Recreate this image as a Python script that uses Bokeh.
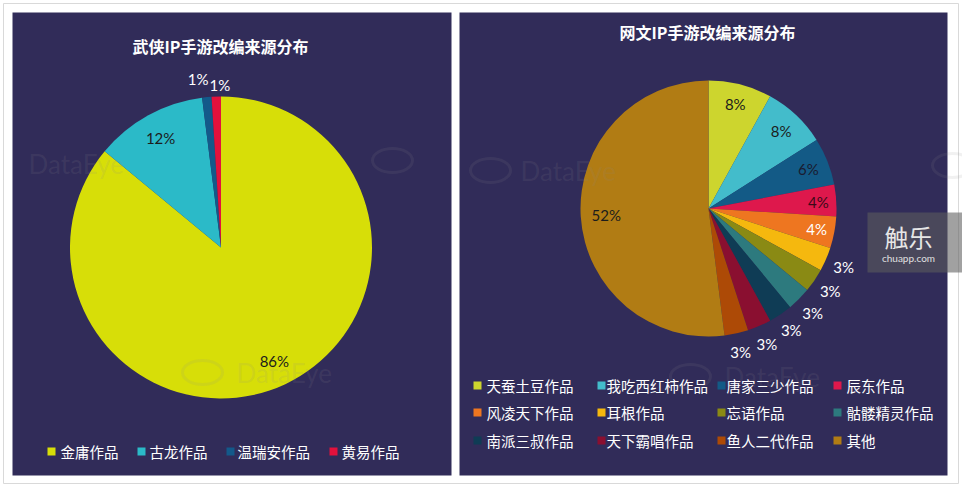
import numpy as np
from bokeh.plotting import figure
from bokeh.models import Range1d
from bokeh.core.properties import value
from bokeh.embed import file_html
from bokeh.resources import INLINE

# ---------------- data ----------------
left_title = "武侠IP手游改编来源分布"
left_names = ["金庸作品", "古龙作品", "温瑞安作品", "黄易作品"]
left_values = [86, 12, 1, 1]
left_colors = ["#d7de08", "#2bbac8", "#13598a", "#e3113c"]

right_title = "网文IP手游改编来源分布"
right_names = ["天蚕土豆作品", "我吃西红柿作品", "唐家三少作品", "辰东作品",
               "风凌天下作品", "耳根作品", "忘语作品", "骷髅精灵作品",
               "南派三叔作品", "天下霸唱作品", "鱼人二代作品", "其他"]
right_values = [8, 8, 6, 4, 4, 3, 3, 3, 3, 3, 3, 52]
right_colors = ["#cdd52e", "#43bccb", "#135a86", "#de184c", "#ee7620", "#f5b80e",
                "#8a8a14", "#2d7a7e", "#0f3c55", "#8a0f30", "#ad4a06", "#b17c14"]

# ---------------- layout ----------------
W, H = 962, 487
NAVY = "#312c59"
CJK = value("Noto Sans CJK SC")
NUM = value("Lato")


def Y(y):
    return H - y


p = figure(width=W, height=H, x_range=Range1d(0, W), y_range=Range1d(0, H),
           output_backend="svg", toolbar_location=None, min_border=0)
p.axis.visible = False
p.grid.visible = False
p.outline_line_color = None
p.background_fill_color = "white"
p.border_fill_color = "white"

# outer frame and panels
p.quad(left=[3], right=[958], top=[Y(3)], bottom=[Y(483)], fill_color="white",
       line_color="#d9d9d9", line_width=1)
p.quad(left=[12, 459], right=[451, 947], top=[Y(12), Y(12)], bottom=[Y(475), Y(475)],
       fill_color=NAVY, line_color=None)


def pie_geom(vals):
    vals = np.array(vals, dtype=float)
    frac = vals / vals.sum()
    c1 = np.cumsum(frac)
    c0 = c1 - frac
    return vals, c0, c1


def draw_wedges(cx, cy, r, vals, colors):
    vals, c0, c1 = pie_geom(vals)
    p.wedge(x=cx, y=Y(cy), radius=r, start_angle=np.pi / 2 - 2 * np.pi * c0,
            end_angle=np.pi / 2 - 2 * np.pi * c1, direction="clock",
            fill_color=colors, line_color=None)


def draw_labels(cx, cy, r, vals, ks, label_colors, x_off=None):
    vals, c0, c1 = pie_geom(vals)
    mid = 2 * np.pi * (c0 + c1) / 2
    ks = np.array(ks)
    lx = cx + ks * r * np.sin(mid)
    ly = cy - ks * r * np.cos(mid)
    if x_off is not None:
        lx = lx + np.array(x_off)
    labels = [f"{int(v)}%" for v in vals]
    p.text(x=lx, y=[Y(v) for v in ly], text=labels, text_color=label_colors,
           text_font=NUM, text_font_size="15px", text_align="center",
           text_baseline="middle")


draw_wedges(220.5, 247, 151, left_values, left_colors)
draw_wedges(708, 208, 128, right_values, right_colors)

# faint DataEye watermarks
wm_x = [28, 236, 520, 724]
wm_y = [163, 372, 170, 376]
p.text(x=wm_x, y=[Y(v) for v in wm_y], text=["DataEye"] * 4, text_color="#8a8a8a",
       text_alpha=0.14, text_font=NUM, text_font_size="26px", text_align="left",
       text_baseline="middle")
p.ellipse(x=[392, 202, 490, 690, 952], y=[Y(160), Y(372), Y(170), Y(376), Y(165)],
          width=40, height=24, fill_color=None, line_color="#8a8a8a", line_alpha=0.12,
          line_width=3)

draw_labels(220.5, 247, 151, left_values, [0.83, 0.83, 1.12, 1.08],
            ["#1c1c1c", "#1c1c1c", "white", "white"], x_off=[0, 0, -7, 4])
draw_labels(708, 208, 128, right_values, [0.84, 0.83, 0.84, 0.86, 0.86] + [1.15] * 6 + [0.8],
            ["#1c1c1c", "#1c1c1c", "#1a1a30", "#3a0a18", "white", "white", "white",
             "white", "white", "white", "white", "#1c1c1c"])

# titles
p.text(x=[220, 707], y=[Y(45), Y(31)], text=[left_title, right_title], text_color="white",
       text_font=CJK, text_font_size="16px", text_font_style="bold",
       text_align="center", text_baseline="middle")

# left legend
lg_sq_x = [51, 141, 230, 333]
lg_tx_x = [60, 149, 237, 341]
lg_y = 451
p.rect(x=lg_sq_x, y=[Y(lg_y)] * 4, width=8, height=8, fill_color=left_colors,
       line_color=None)
p.text(x=lg_tx_x, y=[Y(lg_y)] * 4, text=left_names, text_color="white", text_font=CJK,
       text_font_size="14.5px", text_align="left", text_baseline="middle")

# right legend (4 columns x 3 rows)
col_sq = [477, 601, 721, 837]
col_tx = [486, 606, 726, 846]
row_y = [385, 412, 440]
sq_x, sq_y, tx_x = [], [], []
for i in range(len(right_names)):
    r_, c_ = divmod(i, 4)
    sq_x.append(col_sq[c_])
    tx_x.append(col_tx[c_])
    sq_y.append(Y(row_y[r_]))
p.rect(x=sq_x, y=sq_y, width=8, height=8, fill_color=right_colors, line_color=None)
p.text(x=tx_x, y=sq_y, text=right_names, text_color="white", text_font=CJK,
       text_font_size="14.5px", text_align="left", text_baseline="middle")

# chuapp watermark box
p.quad(left=[867], right=[975], top=[Y(212)], bottom=[Y(272)], fill_color="#5d5d5d",
       fill_alpha=0.58, line_color=None)
p.text(x=[908], y=[Y(236)], text=["触乐"], text_color="#e6e6e6", text_font=CJK,
       text_font_size="24px", text_align="center", text_baseline="middle")
p.text(x=[908], y=[Y(257)], text=["chuapp.com"], text_color="#e0e0e0", text_font=NUM,
       text_font_size="10px", text_align="center", text_baseline="middle")

open("out.html", "w").write(file_html(p, INLINE))
